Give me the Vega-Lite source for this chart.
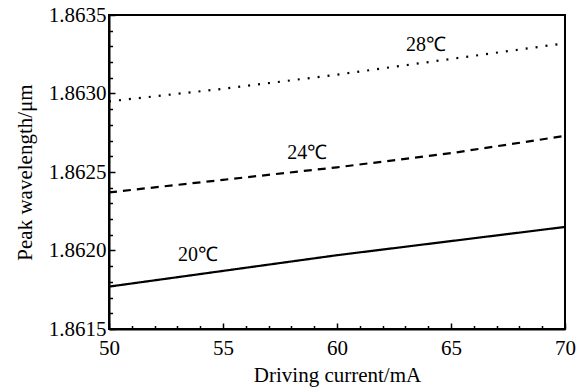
{
  "$schema": "https://vega.github.io/schema/vega-lite/v6.json",
  "autosize": "none",
  "padding": {"left": 109, "top": 15, "right": 20, "bottom": 63},
  "width": 456,
  "height": 314,
  "background": "white",
  "config": {
    "view": {"stroke": "black", "strokeWidth": 2},
    "font": "Liberation Serif",
    "axis": {
      "domainColor": "black", "domainWidth": 2, "tickColor": "black", "tickWidth": 1.5,
      "labelColor": "black", "labelFont": "Liberation Serif", "labelFontSize": 21,
      "titleColor": "black", "titleFont": "Liberation Serif", "titleFontSize": 21, "titleFontWeight": "normal",
      "grid": false, "labelOverlap": false, "labelBound": false, "labelFlush": false
    }
  },
  "datasets": {
    "lines": [
      {"current": 50, "wl": 1.86177, "series": "20"},
      {"current": 55, "wl": 1.86187, "series": "20"},
      {"current": 60, "wl": 1.86197, "series": "20"},
      {"current": 65, "wl": 1.86206, "series": "20"},
      {"current": 70, "wl": 1.86215, "series": "20"},
      {"current": 50, "wl": 1.86237, "series": "24"},
      {"current": 55, "wl": 1.86245, "series": "24"},
      {"current": 60, "wl": 1.86253, "series": "24"},
      {"current": 65, "wl": 1.86262, "series": "24"},
      {"current": 70, "wl": 1.86273, "series": "24"},
      {"current": 50, "wl": 1.86295, "series": "28"},
      {"current": 55, "wl": 1.86303, "series": "28"},
      {"current": 60, "wl": 1.86312, "series": "28"},
      {"current": 65, "wl": 1.86322, "series": "28"},
      {"current": 70, "wl": 1.86332, "series": "28"}
    ],
    "labels": [
      {"current": 53.9, "wl": 1.86197, "text": "20℃"},
      {"current": 58.7, "wl": 1.86262, "text": "24℃"},
      {"current": 63.9, "wl": 1.86331, "text": "28℃"}
    ]
  },
  "resolve": {"axis": {"x": "independent", "y": "independent"}},
  "layer": [
    {
      "data": {"name": "lines"},
      "mark": {"type": "line", "strokeWidth": 2.2, "color": "black"},
      "encoding": {
        "x": {
          "field": "current", "type": "quantitative",
          "scale": {"domain": [50, 70], "nice": false, "zero": false},
          "axis": {
            "orient": "bottom",
            "title": "Driving current/mA",
            "values": [50, 55, 60, 65, 70],
            "format": "d",
            "labelFont": "Liberation Serif",
            "titleFont": "Liberation Serif",
            "tickSize": -6,
            "labelPadding": 14,
            "titlePadding": 6
          }
        },
        "y": {
          "field": "wl", "type": "quantitative",
          "scale": {"domain": [1.8615, 1.8635], "nice": false, "zero": false},
          "axis": {
            "orient": "left",
            "title": "Peak wavelength/μm",
            "values": [1.8615, 1.862, 1.8625, 1.863, 1.8635],
            "format": ".4f",
            "labelFont": "Liberation Serif",
            "titleFont": "Liberation Serif",
            "tickSize": -6,
            "labelPadding": 9,
            "titlePadding": 13
          }
        },
        "detail": {"field": "series"},
        "strokeDash": {
          "field": "series", "type": "nominal",
          "scale": {"domain": ["20", "24", "28"], "range": [[1, 0], [8, 6], [2, 8]]},
          "legend": null
        }
      }
    },
    {
      "data": {"name": "labels"},
      "mark": {"type": "text", "font": "Liberation Serif", "fontSize": 20, "color": "black", "align": "center", "baseline": "middle"},
      "encoding": {
        "x": {
          "field": "current", "type": "quantitative",
          "axis": {
            "orient": "bottom", "title": null, "labels": false, "domain": false,
            "values": [51,52,53,54,56,57,58,59,61,62,63,64,66,67,68,69],
            "tickSize": -3.5
          }
        },
        "y": {
          "field": "wl", "type": "quantitative",
          "axis": {
            "orient": "left", "title": null, "labels": false, "domain": false,
            "values": [1.8616,1.8617,1.8618,1.8619,1.8621,1.8622,1.8623,1.8624,1.8626,1.8627,1.8628,1.8629,1.8631,1.8632,1.8633,1.8634],
            "tickSize": -3.5
          }
        },
        "text": {"field": "text"}
      }
    }
  ]
}
